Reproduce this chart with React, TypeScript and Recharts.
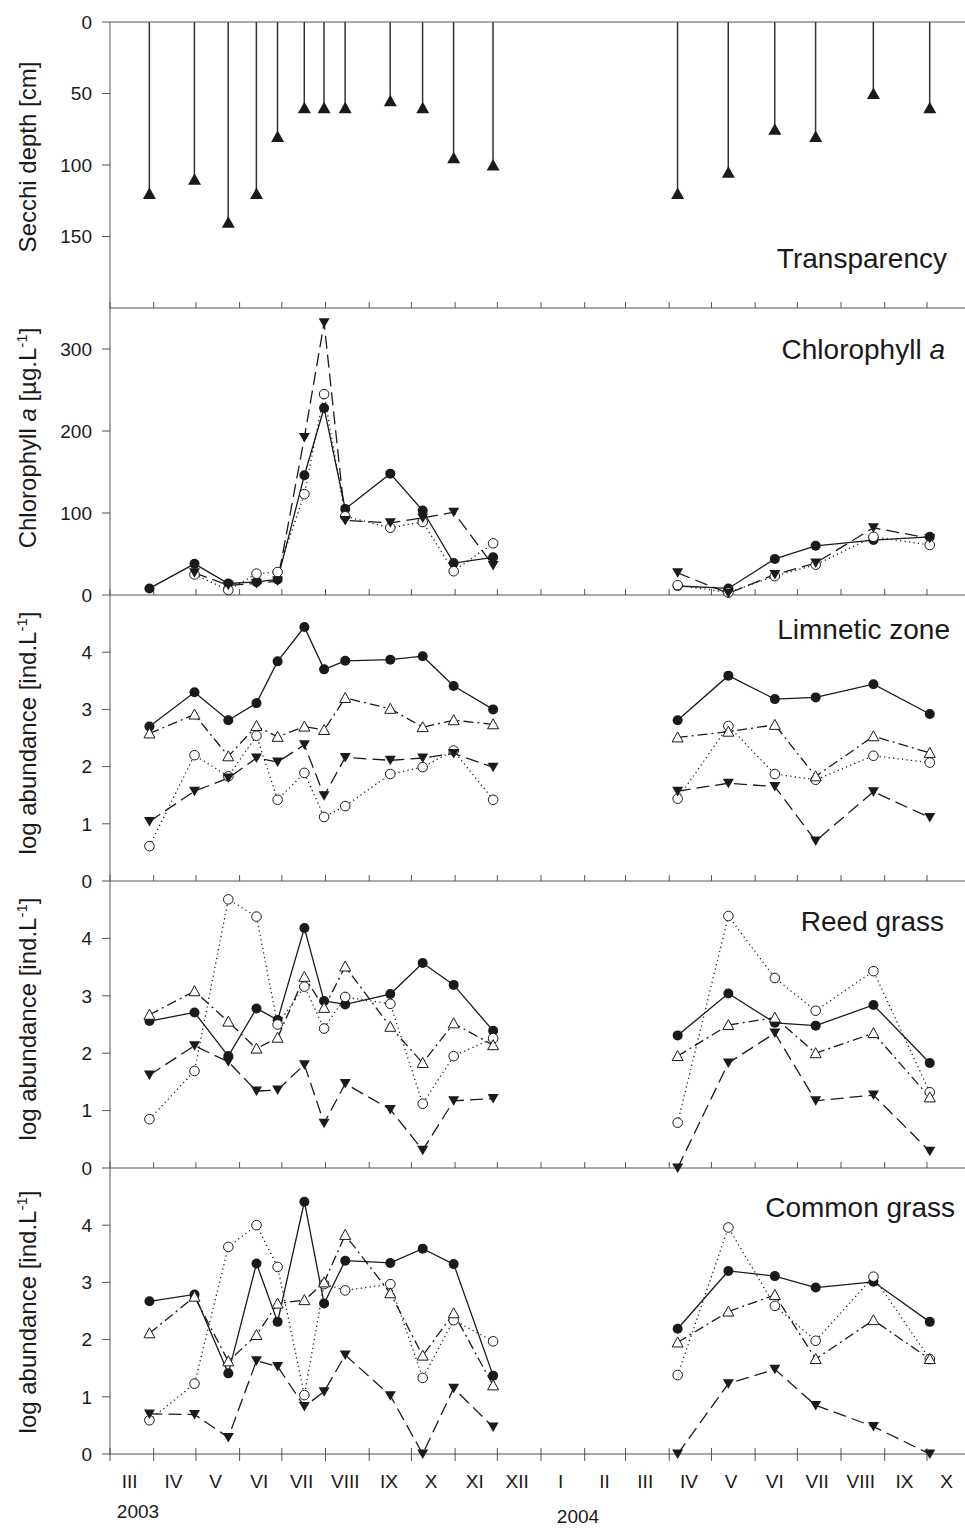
import React from 'react';
import { ComposedChart, Line, Bar, XAxis, YAxis, ReferenceLine } from 'recharts';

const FONT = '"Liberation Sans", Arial, Helvetica, sans-serif';
const INK = '#1a1a1a';
const AXIS = '#555';

// sampling dates, shared by all panels
const sampleDates = [
  '2003-03-29', '2003-04-30', '2003-05-24', '2003-06-13', '2003-06-28', '2003-07-17',
  '2003-07-31', '2003-08-15', '2003-09-16', '2003-10-09', '2003-10-31', '2003-11-28',
  '2004-04-07', '2004-05-13', '2004-06-15', '2004-07-14', '2004-08-24', '2004-10-03',
];

// Secchi depth [cm]
const secchiDepth = [120, 110, 140, 120, 80, 60, 60, 60, 55, 60, 95, 100, 120, 105, 75, 80, 50, 60];

// Chlorophyll a [ug/L]
const chlFilled = [8, 38, 14, 16, 19, 146, 228, 105, 148, 103, 39, 46, 11, 8, 44, 60, 67, 71];
const chlOpen = [null, 25, 6, 26, 28, 123, 245, 96, 82, 89, 29, 63, 12, 3, 23, 37, 71, 61];
const chlTri = [null, 27, 12, 14, 17, 192, 332, 91, 88, 94, 101, 36, 27, 2, 25, 39, 82, 69];

// log abundance, limnetic zone
const limFilled = [2.7, 3.3, 2.81, 3.11, 3.84, 4.44, 3.7, 3.85, 3.87, 3.93, 3.41, 3.0, 2.81, 3.59, 3.18, 3.21, 3.44, 2.92];
const limOpenTri = [2.58, 2.91, 2.18, 2.71, 2.52, 2.7, 2.64, 3.2, 3.01, 2.69, 2.81, 2.74, 2.51, 2.61, 2.73, 1.83, 2.53, 2.24];
const limOpen = [0.61, 2.2, 1.83, 2.54, 1.42, 1.89, 1.12, 1.31, 1.87, 1.99, 2.28, 1.42, 1.44, 2.71, 1.87, 1.77, 2.19, 2.07];
const limTri = [1.04, 1.57, 1.8, 2.15, 2.08, 2.38, 1.49, 2.16, 2.11, 2.15, 2.23, 1.99, 1.57, 1.71, 1.65, 0.7, 1.56, 1.11];

// log abundance, reed grass
const reedFilled = [2.56, 2.71, 1.95, 2.78, 2.58, 4.18, 2.91, 2.85, 3.03, 3.57, 3.19, 2.39, 2.31, 3.04, 2.53, 2.48, 2.84, 1.83];
const reedOpenTri = [2.67, 3.08, 2.55, 2.08, 2.27, 3.33, 2.79, 3.51, 2.46, 1.83, 2.52, 2.14, 1.95, 2.49, 2.62, 2.0, 2.35, 1.23];
const reedOpen = [0.85, 1.69, 4.68, 4.38, 2.5, 3.16, 2.43, 2.98, 2.86, 1.12, 1.95, 2.26, 0.79, 4.39, 3.31, 2.74, 3.43, 1.32];
const reedTri = [1.62, 2.13, 1.85, 1.34, 1.36, 1.8, 0.78, 1.47, 1.02, 0.31, 1.17, 1.21, 0.0, 1.83, 2.35, 1.17, 1.27, 0.29];

// log abundance, common grass
const commonFilled = [2.67, 2.79, 1.41, 3.33, 2.31, 4.41, 2.63, 3.38, 3.34, 3.59, 3.32, 1.37, 2.19, 3.2, 3.11, 2.91, 3.01, 2.31];
const commonOpenTri = [2.11, 2.75, 1.62, 2.08, 2.63, 2.69, 3.0, 3.83, 2.81, 1.72, 2.46, 1.2, 1.95, 2.49, 2.78, 1.66, 2.34, 1.66];
const commonOpen = [0.59, 1.23, 3.62, 4.0, 3.27, 1.03, 2.97, 2.86, 2.97, 1.33, 2.34, 1.97, 1.38, 3.96, 2.59, 1.98, 3.1, 1.66];
const commonTri = [0.7, 0.69, 0.29, 1.63, 1.53, 0.83, 1.09, 1.73, 1.02, 0.0, 1.15, 0.47, 0.0, 1.23, 1.48, 0.85, 0.48, 0.0];

const monthLabels = ['III', 'IV', 'V', 'VI', 'VII', 'VIII', 'IX', 'X', 'XI', 'XII', 'I', 'II', 'III', 'IV', 'V', 'VI', 'VII', 'VIII', 'IX', 'X'];

const DAY0 = Date.UTC(2003, 2, 1);
const X_MAX = 607;
const toDay = (iso: string) => {
  const [y, m, d] = iso.split('-').map(Number);
  return (Date.UTC(y, m - 1, d) - DAY0) / 86400000;
};
const monthTicks = monthLabels.map((_, i) => (Date.UTC(2003, 2 + i, 1) - DAY0) / 86400000);
const labelTicks = monthTicks.map((d) => d + 14);

const panelTops = [22, 308, 595, 881, 1168, 1454];

type Kind = 'filled' | 'open' | 'openTri' | 'tri';
type Series = Partial<Record<Kind, (number | null)[]>>;
const kinds: Kind[] = ['filled', 'open', 'openTri', 'tri'];
const dashes: Record<Kind, string | undefined> = {
  filled: undefined,
  open: '1.2 3.3',
  openTri: '10 4 2 4',
  tri: '13 6',
};

const renderDot = (kind: Kind | 'secchi') => (p: any) => {
  const { cx, cy, index } = p;
  const key = `${kind}-${index}`;
  if (cx == null || cy == null || Number.isNaN(cy)) return <g key={key} />;
  if (kind === 'filled') return <circle key={key} cx={cx} cy={cy} r={5} fill={INK} />;
  if (kind === 'open') return <circle key={key} cx={cx} cy={cy} r={4.8} fill="#fff" stroke={INK} strokeWidth={1} />;
  if (kind === 'tri')
    return <polygon key={key} points={`${cx - 5.5},${cy - 4.5} ${cx + 5.5},${cy - 4.5} ${cx},${cy + 5}`} fill={INK} />;
  if (kind === 'openTri')
    return (
      <polygon key={key} points={`${cx},${cy - 5.5} ${cx - 5.5},${cy + 4.5} ${cx + 5.5},${cy + 4.5}`}
        fill="#fff" stroke={INK} strokeWidth={1} />
    );
  return <polygon key={key} points={`${cx},${cy - 6} ${cx - 6.5},${cy + 5.5} ${cx + 6.5},${cy + 5.5}`} fill={INK} />;
};

const tickStyle = { fill: INK, fontSize: 19, fontFamily: FONT };

function xAxesFor(isBottom: boolean) {
  if (!isBottom) {
    return [
      <XAxis key="x" dataKey="x" type="number" domain={[0, X_MAX]} ticks={monthTicks} interval={0}
        tickSize={-6} tickFormatter={() => ''} height={14} stroke={AXIS} />,
    ];
  }
  return [
    <XAxis key="x" dataKey="x" type="number" domain={[0, X_MAX]} ticks={monthTicks} interval={0}
      tickSize={7} tickFormatter={() => ''} height={1} stroke={AXIS} />,
    <XAxis key="in" xAxisId="in" dataKey="x" type="number" domain={[0, X_MAX]} allowDataOverflow
      ticks={monthTicks} interval={0} tickSize={-7} axisLine={false} tickFormatter={() => ''} height={1} stroke={AXIS} />,
    <XAxis key="lbl" xAxisId="lbl" dataKey="x" type="number" domain={[0, X_MAX]} allowDataOverflow
      ticks={labelTicks} interval={0} tickLine={false} axisLine={false} tickSize={6} tickMargin={13} height={72}
      tickFormatter={(_v: number, i: number) => monthLabels[i]} tick={tickStyle} />,
  ];
}

function buildRows(series: Series) {
  return sampleDates.map((d, i) => ({
    x: toDay(d),
    filled: series.filled?.[i] ?? null,
    open: series.open?.[i] ?? null,
    openTri: series.openTri?.[i] ?? null,
    tri: series.tri?.[i] ?? null,
  }));
}

function SeriesPanel({ index, series, yMax, yTicks }: {
  index: number;
  series: Series;
  yMax: number;
  yTicks: number[];
}) {
  const isBottom = index === 4;
  const mt = 12;
  const plotH = panelTops[index + 1] - panelTops[index];
  const xh = isBottom ? 74 : 14;
  const rows = buildRows(series);
  const segments = [rows.slice(0, 12), rows.slice(12)];
  const activeKinds = kinds.filter((k) => series[k]);
  return (
    <div style={{ position: 'absolute', left: 0, top: panelTops[index] - mt }}>
      <ComposedChart width={965} height={mt + plotH + xh} margin={{ top: mt, right: 0, bottom: 0, left: 0 }}>
        {xAxesFor(isBottom)}
        <YAxis type="number" domain={[0, yMax]} ticks={yTicks} interval={0} width={110}
          tickSize={8} tickMargin={10} tick={tickStyle} stroke={AXIS} />
        {activeKinds.flatMap((k) =>
          segments.map((seg, si) => (
            <Line key={`${k}-${si}`} data={seg} dataKey={k} type="linear" stroke={INK} strokeWidth={1.3}
              strokeDasharray={dashes[k]} dot={renderDot(k)} activeDot={false} isAnimationActive={false} />
          ))
        )}
      </ComposedChart>
    </div>
  );
}

function SecchiPanel() {
  const rows = sampleDates.map((d, i) => ({ x: toDay(d), secchi: secchiDepth[i] }));
  const mt = panelTops[0];
  const plotH = panelTops[1] - panelTops[0];
  return (
    <div style={{ position: 'absolute', left: 0, top: 0 }}>
      <ComposedChart width={965} height={mt + plotH + 14} data={rows} margin={{ top: mt, right: 0, bottom: 0, left: 0 }}>
        {xAxesFor(false)}
        <YAxis type="number" reversed domain={[0, 200]} ticks={[0, 50, 100, 150]} interval={0} width={110}
          tickSize={8} tickMargin={10} tick={tickStyle} stroke={AXIS} />
        <ReferenceLine y={0} stroke={AXIS} strokeWidth={1} />
        <Bar dataKey="secchi" barSize={1.5} fill="#333" isAnimationActive={false} />
        <Line dataKey="secchi" stroke="none" dot={renderDot('secchi')} activeDot={false} isAnimationActive={false} />
      </ComposedChart>
    </div>
  );
}

const yLabelX = 36;

function Overlay() {
  const title = { fontSize: 28, fontFamily: FONT, fill: INK, textAnchor: 'end' as const };
  const ylab = { fontSize: 24, fontFamily: FONT, fill: INK, textAnchor: 'middle' as const };
  const sup = (
    <>
      <tspan dy={-9} fontSize={15}>-1</tspan>
      <tspan dy={9}>]</tspan>
    </>
  );
  const logLabel = (cy: number) => (
    <text x={yLabelX} y={cy} transform={`rotate(-90 ${yLabelX} ${cy})`} {...ylab}>
      log abundance [ind.L{sup}
    </text>
  );
  return (
    <svg width={965} height={1528} style={{ position: 'absolute', left: 0, top: 0, pointerEvents: 'none' }}>
      <text x={yLabelX} y={157} transform={`rotate(-90 ${yLabelX} 157)`} {...ylab}>Secchi depth [cm]</text>
      <text x={yLabelX} y={438} transform={`rotate(-90 ${yLabelX} 438)`} {...ylab}>
        Chlorophyll <tspan fontStyle="italic">a</tspan> [µg.L{sup}
      </text>
      {logLabel(733)}
      {logLabel(1019)}
      {logLabel(1312)}

      <text x={947} y={268} {...title}>Transparency</text>
      <text x={945} y={359} {...title}>Chlorophyll <tspan fontStyle="italic">a</tspan></text>
      <text x={950} y={639} {...title}>Limnetic zone</text>
      <text x={944} y={931} {...title}>Reed grass</text>
      <text x={955} y={1217} {...title}>Common grass</text>

      <text x={138} y={1518} fontSize={19} fontFamily={FONT} fill={INK} textAnchor="middle">2003</text>
      <text x={578} y={1523} fontSize={19} fontFamily={FONT} fill={INK} textAnchor="middle">2004</text>
    </svg>
  );
}

export default function App() {
  return (
    <div style={{ position: 'absolute', left: 0, top: 0, width: 965, height: 1528, background: '#fff' }}>
      <SecchiPanel />
      <SeriesPanel index={1} yMax={350} yTicks={[0, 100, 200, 300]}
        series={{ filled: chlFilled, open: chlOpen, tri: chlTri }} />
      <SeriesPanel index={2} yMax={5} yTicks={[0, 1, 2, 3, 4]}
        series={{ filled: limFilled, open: limOpen, openTri: limOpenTri, tri: limTri }} />
      <SeriesPanel index={3} yMax={5} yTicks={[0, 1, 2, 3, 4]}
        series={{ filled: reedFilled, open: reedOpen, openTri: reedOpenTri, tri: reedTri }} />
      <SeriesPanel index={4} yMax={5} yTicks={[0, 1, 2, 3, 4]}
        series={{ filled: commonFilled, open: commonOpen, openTri: commonOpenTri, tri: commonTri }} />
      <Overlay />
    </div>
  );
}
